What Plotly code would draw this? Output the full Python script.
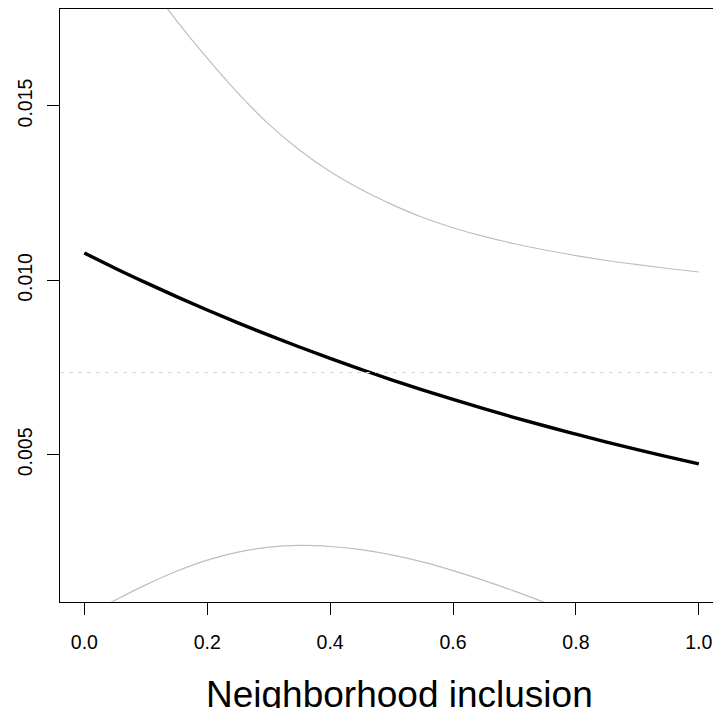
import plotly.graph_objects as go

# Data
x_vals = [0.00, 0.05, 0.10, 0.15, 0.20, 0.25, 0.30, 0.35, 0.40, 0.45, 0.50,
          0.55, 0.60, 0.65, 0.70, 0.75, 0.80, 0.85, 0.90, 0.95, 1.00]
estimate = [0.010785, 0.010350, 0.009935, 0.009535, 0.009150, 0.008782, 0.008428,
            0.008090, 0.007762, 0.007450, 0.007150, 0.006862, 0.006587, 0.006322,
            0.006068, 0.005825, 0.005590, 0.005365, 0.005148, 0.004940, 0.004740]
upper = [0.02124, 0.01988, 0.01862, 0.01745, 0.01637, 0.01537, 0.01448, 0.01374,
         0.01312, 0.01261, 0.01218, 0.01181, 0.01151, 0.01126, 0.01105,
         0.01087, 0.01071, 0.01057, 0.01045, 0.01034, 0.01024]
lower = [0.00036, 0.00083, 0.00127, 0.00166, 0.00198, 0.00221, 0.00235,
         0.00240, 0.00237, 0.00228, 0.00213, 0.00193, 0.00168, 0.00140,
         0.00109, 0.00076, 0.00040, 0.00002, -0.00037, -0.00078, -0.00120]
ref_level = 0.007358

x_ticks = [0.0, 0.2, 0.4, 0.6, 0.8, 1.0]
x_ticklabels = ["0.0", "0.2", "0.4", "0.6", "0.8", "1.0"]
y_ticks = [0.005, 0.010, 0.015]
y_ticklabels = ["0.005", "0.010", "0.015"]
x_title = "Neighborhood inclusion"

FONT = "Liberation Sans, Arial, Helvetica, sans-serif"

fig = go.Figure()
fig.add_hline(y=ref_level, line=dict(color="#d6d6d6", width=1, dash="4px,5px"))
fig.add_trace(go.Scatter(x=x_vals, y=upper, mode="lines", line=dict(color="#bebebe", width=1.2, shape="spline"), hoverinfo="skip"))
fig.add_trace(go.Scatter(x=x_vals, y=lower, mode="lines", line=dict(color="#bebebe", width=1.2, shape="spline"), hoverinfo="skip"))
fig.add_trace(go.Scatter(x=x_vals, y=estimate, mode="lines", line=dict(color="black", width=3.4, shape="spline"), hoverinfo="skip"))

# page body has an 8px margin, so the figure is sized to 713x700
fig.update_layout(
    width=713, height=700,
    margin=dict(l=52, r=0, t=1, b=106),
    paper_bgcolor="white", plot_bgcolor="white",
    showlegend=False,
    font=dict(family=FONT, color="black"),
    annotations=[dict(text=x_title, xref="paper", yref="paper", x=0.513, y=-0.156,
                      xanchor="center", yanchor="middle", showarrow=False,
                      font=dict(size=37, family=FONT, color="black"))],
)
fig.update_xaxes(range=[-0.0396, 1.0361], tickvals=x_ticks, ticktext=x_ticklabels,
                 showline=True, linecolor="black", linewidth=1, mirror=True,
                 ticks="outside", ticklen=12, tickwidth=1, tickcolor="black",
                 showgrid=False, zeroline=False, tickfont=dict(size=19.5, family=FONT),
                 ticklabelstandoff=11)
fig.update_yaxes(range=[0.000779, 0.01778], tickvals=y_ticks, ticktext=y_ticklabels,
                 showline=True, linecolor="black", linewidth=1,
                 ticks="outside", ticklen=12, tickwidth=1, tickcolor="black",
                 showgrid=False, zeroline=False, tickangle=-90,
                 tickfont=dict(size=19.5, family=FONT), ticklabelstandoff=7)

fig.write_html("out.html")
